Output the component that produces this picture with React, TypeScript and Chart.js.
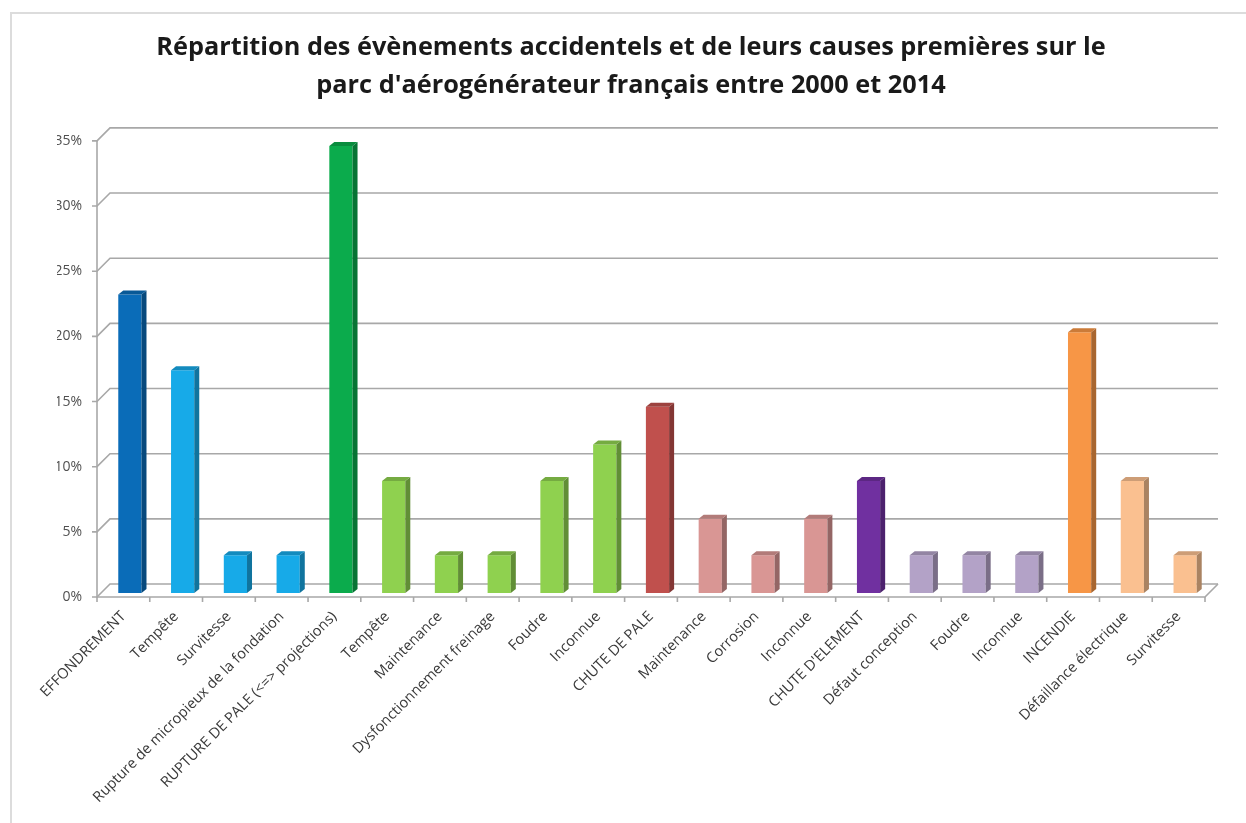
import React, { useEffect, useRef } from "react";
import { Chart, registerables } from "chart.js";

Chart.register(...registerables);

const TITLE_LINES = [
  "Répartition des évènements accidentels et de leurs causes premières sur le",
  "parc d'aérogénérateur français entre 2000 et 2014",
];

const CATEGORIES = [
  "EFFONDREMENT",
  "Tempête",
  "Survitesse",
  "Rupture de micropieux de la fondation",
  "RUPTURE DE PALE (<=> projections)",
  "Tempête",
  "Maintenance",
  "Dysfonctionnement freinage",
  "Foudre",
  "Inconnue",
  "CHUTE DE PALE",
  "Maintenance",
  "Corrosion",
  "Inconnue",
  "CHUTE D'ELEMENT",
  "Défaut conception",
  "Foudre",
  "Inconnue",
  "INCENDIE",
  "Défaillance électrique",
  "Survitesse",
];

// percentages
const VALUES = [
  22.9, 17.1, 2.9, 2.9, 34.3, 8.6, 2.9, 2.9, 8.6, 11.4, 14.3, 5.7, 2.9, 5.7,
  8.6, 2.9, 2.9, 2.9, 20.0, 8.6, 2.9,
];

const COLORS = [
  "#0a6cb8",
  "#17aae8",
  "#17aae8",
  "#17aae8",
  "#0bab4c",
  "#8fd14f",
  "#8fd14f",
  "#8fd14f",
  "#8fd14f",
  "#8fd14f",
  "#c0504d",
  "#d99694",
  "#d99694",
  "#d99694",
  "#7030a0",
  "#b3a2c7",
  "#b3a2c7",
  "#b3a2c7",
  "#f79646",
  "#fac090",
  "#fac090",
];

const Y_TICKS = [0, 5, 10, 15, 20, 25, 30, 35];

function shade(hex: string, f: number): string {
  const n = parseInt(hex.slice(1), 16);
  const r = Math.round(((n >> 16) & 255) * f);
  const g = Math.round(((n >> 8) & 255) * f);
  const b = Math.round((n & 255) * f);
  return `rgb(${r},${g},${b})`;
}

const DEPTH_X = 13;
const DEPTH_Y = 13;
const BAR_SHIFT_X = 6.5;
const BAR_SHIFT_Y = 4;
const SIDE_X = 5;
const SIDE_Y = 4;

const frame3d = {
  id: "frame3d",
  beforeDraw(chart: any) {
    const { ctx } = chart;
    ctx.save();
    ctx.strokeStyle = "#dcdcdc";
    ctx.lineWidth = 2;
    ctx.beginPath();
    ctx.moveTo(11, 823);
    ctx.lineTo(11, 13);
    ctx.lineTo(1246, 13);
    ctx.stroke();
    ctx.restore();
  },
  beforeDatasetsDraw(chart: any) {
    const { ctx, chartArea: a, scales } = chart;
    const x = scales.x;
    const y = scales.y;
    ctx.save();
    ctx.strokeStyle = "#a8a8a8";
    ctx.lineWidth = 1.6;
    for (const v of Y_TICKS) {
      const py = y.getPixelForValue(v);
      ctx.beginPath();
      ctx.moveTo(a.left - 5, py);
      ctx.lineTo(a.left, py);
      ctx.lineTo(a.left + DEPTH_X, py - DEPTH_Y);
      ctx.lineTo(a.right + DEPTH_X, py - DEPTH_Y);
      ctx.stroke();
    }
    ctx.beginPath();
    ctx.moveTo(a.left, a.top);
    ctx.lineTo(a.left, a.bottom);
    ctx.lineTo(a.right, a.bottom);
    ctx.lineTo(a.right + DEPTH_X, a.bottom - DEPTH_Y);
    ctx.stroke();
    for (let i = 0; i <= CATEGORIES.length; i++) {
      const px = x.getPixelForValue(i - 0.5);
      ctx.beginPath();
      ctx.moveTo(px, a.bottom);
      ctx.lineTo(px, a.bottom + 5);
      ctx.stroke();
    }
    ctx.restore();
    ctx.save();
    ctx.translate(BAR_SHIFT_X, -BAR_SHIFT_Y);
  },
  afterDatasetsDraw(chart: any) {
    const { ctx } = chart;
    const meta = chart.getDatasetMeta(0);
    meta.data.forEach((el: any, i: number) => {
      const p = el.getProps(["x", "y", "base", "width"], true);
      const l = p.x - p.width / 2;
      const r = p.x + p.width / 2;
      const c = COLORS[i];
      ctx.fillStyle = shade(c, 0.68);
      ctx.beginPath();
      ctx.moveTo(r, p.y);
      ctx.lineTo(r + SIDE_X, p.y - SIDE_Y);
      ctx.lineTo(r + SIDE_X, p.base - SIDE_Y);
      ctx.lineTo(r, p.base);
      ctx.closePath();
      ctx.fill();
      ctx.fillStyle = shade(c, 0.82);
      ctx.beginPath();
      ctx.moveTo(l, p.y);
      ctx.lineTo(r, p.y);
      ctx.lineTo(r + SIDE_X, p.y - SIDE_Y);
      ctx.lineTo(l + SIDE_X, p.y - SIDE_Y);
      ctx.closePath();
      ctx.fill();
    });
    ctx.restore();
  },
};

export default function App() {
  const ref = useRef<HTMLCanvasElement | null>(null);
  useEffect(() => {
    document.body.style.margin = "0";
    const canvas = ref.current!;
    const chart = new Chart(canvas, {
      type: "bar",
      data: {
        labels: CATEGORIES,
        datasets: [
          {
            data: VALUES,
            backgroundColor: COLORS,
            borderWidth: 0,
            barPercentage: 1,
            categoryPercentage: 0.44,
            clip: false as any,
          },
        ],
      },
      options: {
        responsive: false,
        animation: false,
        devicePixelRatio: 1,
        layout: { padding: { left: 57, right: 41, top: 0, bottom: 0 } },
        plugins: {
          legend: { display: false },
          tooltip: { enabled: false },
          title: {
            display: true,
            text: TITLE_LINES,
            color: "#1a1a1a",
            font: { family: "Open Sans", size: 25.3, weight: "bold", lineHeight: 1.5 },
            padding: { top: 29, bottom: 36 },
          },
        },
        scales: {
          x: {
            grid: { display: false, drawTicks: false },
            border: { display: false },
            ticks: {
              autoSkip: false,
              minRotation: 45,
              maxRotation: 45,
              padding: 11,
              color: "#3a3a3a",
              font: { family: "Open Sans", size: 14.6 },
            },
            afterFit: (s: any) => {
              s.height = 226;
            },
          },
          y: {
            min: 0,
            max: 35,
            grid: { display: false, drawTicks: false },
            border: { display: false },
            ticks: {
              stepSize: 5,
              padding: 15,
              color: "#505050",
              font: { family: "Open Sans", size: 14 },
              callback: (v: any) => `${v}%`,
            },
            afterFit: (s: any) => {
              s.width = 40;
            },
          },
        },
      },
      plugins: [frame3d],
    });
    return () => chart.destroy();
  }, []);
  return (
    <div style={{ position: "fixed", left: 0, top: 0, width: 1246, height: 823, background: "#fff" }}>
      <canvas ref={ref} width={1246} height={823} style={{ width: 1246, height: 823 }} />
    </div>
  );
}
